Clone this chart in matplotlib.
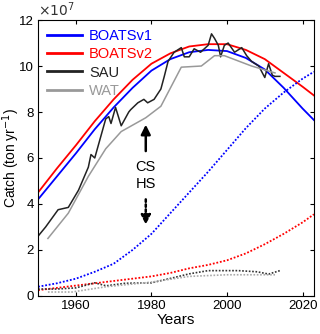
import matplotlib
matplotlib.use("Agg")
import matplotlib.pyplot as plt
import numpy as np

plt.rcParams["font.family"] = ["Liberation Sans", "DejaVu Sans"]

# BOATS model curves (units of 1e7 ton/yr)
boats_years = [1950, 1955, 1960, 1965, 1970, 1975, 1980, 1985, 1990, 1995,
               2000, 2005, 2010, 2015, 2020, 2023]
v1_catch = [4.2, 5.2, 6.2, 7.25, 8.2, 9.05, 9.8, 10.3, 10.6, 10.7,
            10.65, 10.35, 9.85, 9.05, 8.15, 7.65]
v2_catch = [4.5, 5.55, 6.55, 7.6, 8.55, 9.4, 10.1, 10.55, 10.85, 10.95,
            10.95, 10.7, 10.3, 9.7, 9.1, 8.72]
v1_dotted = [0.4, 0.55, 0.75, 1.05, 1.4, 2.0, 2.7, 3.6, 4.5, 5.4,
             6.35, 7.3, 8.15, 8.85, 9.45, 9.75]
v2_dotted = [0.25, 0.35, 0.45, 0.55, 0.65, 0.75, 0.85, 1.0, 1.2, 1.35,
             1.55, 1.85, 2.25, 2.7, 3.2, 3.55]

# Sea Around Us reconstruction
sau_years = [1950, 1952, 1955.3, 1958, 1960.7, 1963.3, 1964, 1965, 1967.9, 1968.7,
             1969.3, 1970.5, 1972, 1974, 1974.5, 1976.4, 1978, 1979, 1980.7, 1982.5,
             1983.4, 1984.4, 1986, 1987.9, 1988.7, 1990, 1991.3, 1993, 1995, 1995.9,
             1996.7, 1997.7, 1998.3, 1999.3, 2000.3, 2002, 2003.9, 2005.2, 2006.5, 2008.4,
             2010, 2011, 2012, 2012.7, 2014]
sau_catch = [2.6, 3.0, 3.75, 3.85, 4.6, 5.6, 6.15, 6.0, 7.7, 7.8,
             7.5, 8.2, 7.4, 8.0, 8.1, 8.4, 8.55, 8.4, 8.55, 9.0,
             9.55, 10.2, 10.6, 10.8, 10.4, 10.4, 10.75, 10.6, 10.9, 11.4,
             11.2, 10.9, 10.4, 10.9, 11.0, 10.6, 10.8, 10.45, 10.2, 10.0,
             9.5, 10.1, 9.6, 9.55, 9.55]
sau_dot_years = [1950, 1955, 1960, 1965, 1968, 1973, 1980, 1985.5, 1990, 1995,
                 2003, 2008, 2011, 2014]
sau_dot = [0.3, 0.3, 0.35, 0.57, 0.44, 0.55, 0.57, 0.78, 0.96, 1.1,
           1.1, 1.05, 0.95, 1.1]

# Watson reconstruction
wat_years = [1952.6, 1958, 1963.3, 1967.9, 1972, 1978.5, 1982.5, 1987.9, 1993.2,
             1996.7, 1999.3, 2006.5, 2012.7]
wat_catch = [2.5, 3.6, 5.2, 6.4, 7.15, 7.75, 8.25, 9.95, 10.0,
             10.45, 10.45, 10.0, 9.7]
wat_dot_years = [1952.6, 1959, 1968, 1980, 1990, 2000, 2010, 2012.7]
wat_dot = [0.17, 0.17, 0.4, 0.6, 0.85, 0.92, 0.92, 0.92]

fig = plt.figure(figsize=(3.2, 3.34), dpi=100)
ax = fig.add_axes([0.119, 0.114, 0.862, 0.826])

dots = (0, (1, 1))
ax.plot(boats_years, v1_catch, color="blue", lw=1.3, label="BOATSv1")
ax.plot(boats_years, v2_catch, color="red", lw=1.3, label="BOATSv2")
ax.plot(sau_years, sau_catch, color="#222222", lw=1.1, label="SAU")
ax.plot(wat_years, wat_catch, color="#999999", lw=1.1, label="WAT")

ax.plot(boats_years, v1_dotted, color="blue", lw=1.3, ls=dots)
ax.plot(boats_years, v2_dotted, color="red", lw=1.3, ls=dots)
ax.plot(sau_dot_years, sau_dot, color="#333333", lw=1.2, ls=dots)
ax.plot(wat_dot_years, wat_dot, color="#aaaaaa", lw=1.2, ls=dots)

# arrows and labels
ax.annotate("", xy=(1978.5, 7.45), xytext=(1978.5, 6.3),
            arrowprops=dict(arrowstyle="-|>", color="k", lw=1.8, mutation_scale=14,
                            shrinkA=0, shrinkB=0))
ax.annotate("", xy=(1978.5, 3.1), xytext=(1978.5, 4.2),
            arrowprops=dict(arrowstyle="-|>", color="k", lw=1.8, ls=(0, (1, 1)),
                            mutation_scale=14, shrinkA=0, shrinkB=0))
ax.text(1978.5, 5.6, "CS", ha="center", va="center", fontsize=10.5)
ax.text(1978.5, 4.85, "HS", ha="center", va="center", fontsize=10.5)

ax.set_xlim(1950, 2023)
ax.set_ylim(0, 12)
ax.set_xticks([1960, 1980, 2000, 2020])
ax.set_yticks([0, 2, 4, 6, 8, 10, 12])
ax.tick_params(direction="in", top=True, right=True, labelsize=9.5, length=3, pad=3)
ax.set_xlabel("Years", fontsize=11, labelpad=1)
ax.set_ylabel("Catch (ton yr$^{-1}$)", fontsize=10)
ax.yaxis.set_label_coords(-0.06, 0.5)
ax.text(0.0, 1.005, r"$\times10^7$", transform=ax.transAxes, fontsize=10,
        va="bottom", ha="left", color="#333333")

leg = ax.legend(loc="upper left", frameon=False, fontsize=10.5, handlelength=2.4,
                handletextpad=0.5, borderaxespad=0.2, labelspacing=0.3)
for line, text in zip(leg.get_lines(), leg.get_texts()):
    line.set_linewidth(2)
    text.set_color(line.get_color())

fig.savefig("out.png", dpi=100)
